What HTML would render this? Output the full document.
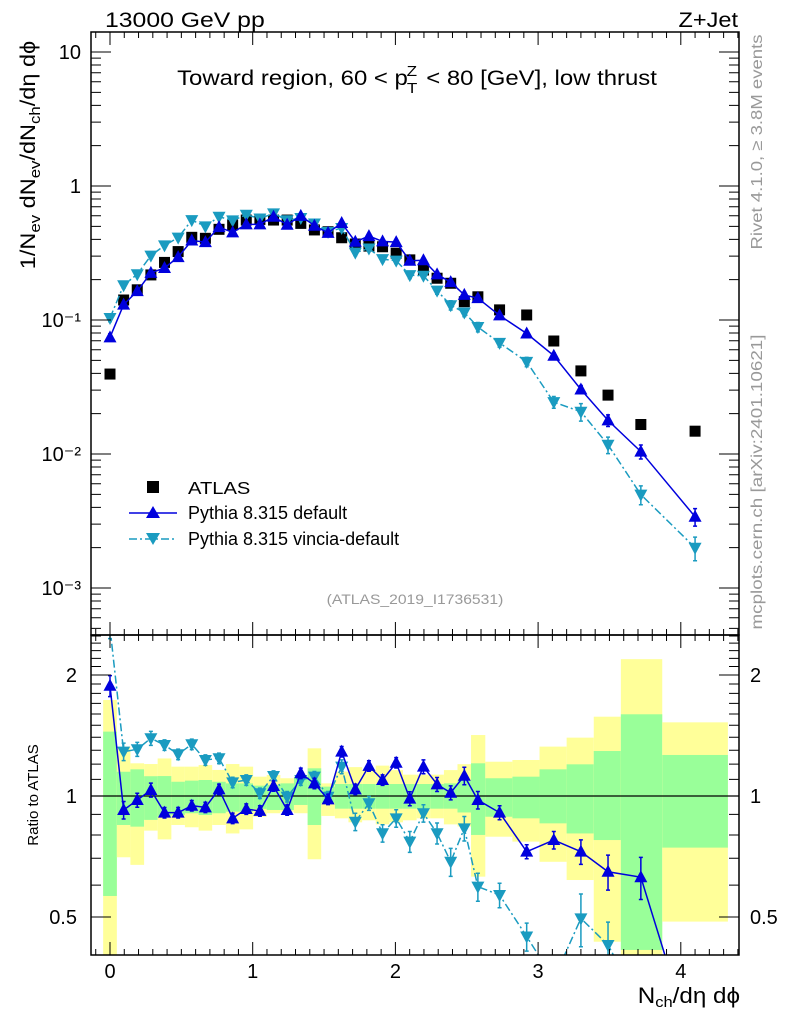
<!DOCTYPE html>
<html><head><meta charset="utf-8"><style>
html,body{margin:0;padding:0;background:#fff;overflow:hidden;width:786px;height:1024px}
svg{display:block;font-family:"Liberation Sans",sans-serif}
</style></head><body>
<svg id="chart" width="786" height="1024" viewBox="0 0 786 1024" xmlns="http://www.w3.org/2000/svg">
<defs>
<clipPath id="clipTop"><rect x="91" y="32" width="648" height="603"/></clipPath>
<clipPath id="clipRat"><rect x="91" y="635" width="648" height="320"/></clipPath>
</defs>
<g transform="translate(105,27) scale(1.18,1)"><text x="0" y="0" font-size="21">13000 GeV pp</text></g>
<g transform="translate(738,27) scale(1.12,1)"><text x="0" y="0" font-size="21" text-anchor="end">Z+Jet</text></g>
<g transform="translate(417,85) scale(1.14,1)"><text x="0" y="0" font-size="21" text-anchor="middle">Toward region, 60 &lt; p<tspan font-size="15" dy="-9" dx="-1">Z</tspan><tspan font-size="15" dy="17" dx="-9">T</tspan><tspan dy="-8" dx="2"> &lt; 80 [GeV], low thrust</tspan></text></g>
<g transform="translate(35,155) rotate(-90) scale(1.12,1)"><text x="0" y="0" font-size="21" text-anchor="middle">1/N<tspan font-size="15" dy="5">ev</tspan><tspan dy="-5"> dN</tspan><tspan font-size="15" dy="5">ev</tspan><tspan dy="-5">/dN</tspan><tspan font-size="15" dy="5">ch</tspan><tspan dy="-5">/dη dϕ</tspan></text></g>
<text transform="translate(38,795) rotate(-90)" font-size="15" text-anchor="middle">Ratio to ATLAS</text>
<text transform="translate(762,142) rotate(-90)" font-size="16" fill="#999" text-anchor="middle" textLength="215" lengthAdjust="spacingAndGlyphs">Rivet 4.1.0, ≥ 3.8M events</text>
<text transform="translate(762,482) rotate(-90)" font-size="16" fill="#999" text-anchor="middle" textLength="295" lengthAdjust="spacingAndGlyphs">mcplots.cern.ch [arXiv:2401.10621]</text>
<g transform="translate(740,1003) scale(1.1,1)"><text x="0" y="0" font-size="22" text-anchor="end">N<tspan font-size="15" dy="4">ch</tspan><tspan dy="-4">/dη dϕ</tspan></text></g>
<g transform="translate(415,604) scale(1.12,1)"><text x="0" y="0" font-size="14" fill="#999" text-anchor="middle">(ATLAS_2019_I1736531)</text></g>
<g id="bands" clip-path="url(#clipRat)"></g>
<g id="marks"></g>
<g id="axes"></g>
<g>
<rect x="147" y="481" width="12" height="12" fill="#000"/>
<g transform="translate(188,494) scale(1.12,1)"><text x="0" y="0" font-size="18">ATLAS</text></g>
<line x1="129" y1="513" x2="177" y2="513" stroke="#0000dd" stroke-width="1.5"/>
<path d="M153,506 L160,518 L146,518 Z" fill="#0000dd"/>
<g transform="translate(188,519) scale(1.0,1)"><text x="0" y="0" font-size="18">Pythia 8.315 default</text></g>
<line x1="129" y1="539" x2="177" y2="539" stroke="#1a9bc0" stroke-width="1.5" stroke-dasharray="8,3,2,3"/>
<path d="M146,533 L160,533 L153,545 Z" fill="#1a9bc0"/>
<g transform="translate(188,545) scale(1.0,1)"><text x="0" y="0" font-size="18">Pythia 8.315 vincia-default</text></g>
</g>
</svg>
<script>
const xCenters = [0,0.0955,0.191,0.2865,0.382,0.4775,0.573,0.6685,0.764,0.8595,0.955,1.0505,1.146,1.2415,1.337,1.4325,1.528,1.6235,1.719,1.8145,1.91,2.0055,2.101,2.1965,2.292,2.3875,2.483,2.578,2.73,2.92,3.11,3.30,3.49,3.72,4.1];
const binLo = [-0.048,0.048,0.143,0.239,0.334,0.43,0.525,0.621,0.716,0.812,0.907,1.003,1.098,1.194,1.289,1.385,1.48,1.576,1.671,1.767,1.862,1.958,2.053,2.149,2.244,2.34,2.435,2.53,2.63,2.82,3.01,3.20,3.39,3.58,3.87];
const binHi = [0.048,0.143,0.239,0.334,0.43,0.525,0.621,0.716,0.812,0.907,1.003,1.098,1.194,1.289,1.385,1.48,1.576,1.671,1.767,1.862,1.958,2.053,2.149,2.244,2.34,2.435,2.53,2.63,2.82,3.01,3.20,3.39,3.58,3.87,4.33];
const atlas = [0.0395,0.141,0.168,0.217,0.269,0.324,0.414,0.407,0.475,0.512,0.557,0.563,0.557,0.557,0.526,0.470,0.456,0.411,0.369,0.356,0.352,0.315,0.281,0.236,0.205,0.188,0.137,0.149,0.119,0.109,0.0697,0.0417,0.0275,0.0166,0.0148];
const pythiaRatio = [1.88,0.923,0.977,1.035,0.909,0.909,0.946,0.937,1.039,0.88,0.928,0.918,1.059,0.923,1.139,1.075,0.981,1.289,1.039,1.188,1.096,1.21,0.985,1.183,1.069,1.019,1.123,0.977,0.909,0.727,0.777,0.727,0.648,0.628,0.23];
const pythiaErr = [0.06,0.05,0.04,0.04,0.03,0.03,0.03,0.03,0.03,0.03,0.03,0.03,0.03,0.03,0.03,0.03,0.03,0.03,0.03,0.03,0.03,0.03,0.04,0.04,0.04,0.04,0.05,0.05,0.04,0.04,0.05,0.07,0.1,0.12,0.15];
const vinciaRatio = [2.62,1.289,1.307,1.392,1.339,1.27,1.345,1.229,1.241,1.081,1.096,1.016,1.121,0.996,1.096,1.117,0.996,1.183,0.863,0.959,0.808,0.88,0.77,0.906,0.808,0.686,0.831,0.595,0.567,0.447,0.35,0.496,0.426,0.30,0.135];
const vinciaErr = [0.06,0.05,0.04,0.04,0.03,0.03,0.03,0.03,0.03,0.03,0.03,0.03,0.03,0.03,0.03,0.03,0.03,0.04,0.05,0.04,0.05,0.05,0.06,0.05,0.06,0.08,0.07,0.08,0.07,0.08,0.1,0.15,0.14,0.16,0.2];
const statHi = [1.446,1.149,1.165,1.12,1.121,1.085,1.092,1.096,1.085,1.075,1.075,1.061,1.065,1.075,1.117,1.172,1.055,1.071,1.071,1.071,1.071,1.071,1.071,1.071,1.071,1.075,1.092,1.206,1.107,1.117,1.165,1.199,1.294,1.597,1.265];
const statLo = [0.564,0.847,0.839,0.872,0.888,0.897,0.906,0.897,0.906,0.914,0.914,0.929,0.923,0.923,0.95,0.847,0.959,0.93,0.93,0.93,0.93,0.93,0.93,0.93,0.93,0.93,0.91,0.8,0.888,0.88,0.855,0.807,0.777,0.414,0.744];
const totHi = [1.733,1.326,1.206,1.201,1.24,1.183,1.183,1.194,1.161,1.201,1.183,1.117,1.128,1.107,1.117,1.314,1.075,1.15,1.18,1.16,1.19,1.16,1.13,1.13,1.13,1.16,1.2,1.418,1.217,1.229,1.327,1.397,1.575,2.19,1.525];
const totLo = [0.3,0.704,0.674,0.82,0.78,0.847,0.836,0.82,0.847,0.807,0.826,0.888,0.906,0.914,0.906,0.696,0.892,0.88,0.86,0.87,0.85,0.86,0.87,0.88,0.88,0.85,0.84,0.63,0.792,0.77,0.686,0.618,0.434,0.3,0.487];
const yMainTicks = ["10","1","10⁻¹","10⁻²","10⁻³"];
const yMainTickVals = [10,1,0.1,0.01,0.001];
const xTickVals = [0,1,2,3,4];
const yRatTickVals = [2,1,0.5];

const NS="http://www.w3.org/2000/svg";
const X0=91,X1=739,TOP=32,MID=635,BOT=955;
function sx(v){return 110+142.7*v;}
function syMain(v){return 52+134*(1-Math.log10(v));}
function syRat(r){return 796-121*Math.log2(r);}
function mk(tag,attrs,parent){const e=document.createElementNS(NS,tag);for(const k in attrs)e.setAttribute(k,attrs[k]);parent.appendChild(e);return e;}
const bands=document.getElementById('bands'),marks=document.getElementById('marks'),axes=document.getElementById('axes');

for(let i=0;i<xCenters.length;i++){
  const x0=sx(binLo[i]),x1=sx(binHi[i]);
  const y=mk('rect',{x:x0,y:syRat(totHi[i]),width:x1-x0,height:syRat(totLo[i])-syRat(totHi[i]),fill:'#ffff99'},bands);
  
  
  const g=mk('rect',{x:x0,y:syRat(statHi[i]),width:x1-x0,height:syRat(statLo[i])-syRat(statHi[i]),fill:'#99ff99'},bands);
  
  
}
const one=mk('line',{x1:X0,x2:X1,y1:syRat(1),y2:syRat(1),stroke:'#000','stroke-width':1.2},bands);



function series(ratios,errs,color,dash,up,nameBase){
  const gTop=mk('g',{'clip-path':'url(#clipTop)'},marks);
  
  
  const gRat=mk('g',{'clip-path':'url(#clipRat)'},marks);
  
  
  let pm='',pr='';
  ratios.forEach((r,i)=>{const v=r*atlas[i];pm+=(i?'L':'M')+sx(xCenters[i])+','+syMain(v);pr+=(i?'L':'M')+sx(xCenters[i])+','+syRat(r);});
  const attrs={d:pm,fill:'none',stroke:color,'stroke-width':1.5};
  if(dash)attrs['stroke-dasharray']=dash;
  const l1=mk('path',attrs,gTop);
  
  
  attrs.d=pr;
  const l2=mk('path',attrs,gRat);
  
  
  ratios.forEach((r,i)=>{
    const x=sx(xCenters[i]);
    [[gTop,syMain(r*atlas[i]),syMain(r*atlas[i]*(1+errs[i])),syMain(r*atlas[i]*(1-errs[i]))],[gRat,syRat(r),syRat(r*(1+errs[i])),syRat(r*(1-errs[i]))]].forEach(([g,y,ya,yb])=>{
      const e=mk('path',{d:`M${x},${ya}L${x},${yb}M${x-2},${ya}L${x+2},${ya}M${x-2},${yb}L${x+2},${yb}`,stroke:color,'stroke-width':1.5,fill:'none'},g);
      
      
      const d=up?`M${x},${y-7}L${x+6.5},${y+5}L${x-6.5},${y+5}Z`:`M${x-6.5},${y-5}L${x+6.5},${y-5}L${x},${y+7}Z`;
      const m=mk('path',{d:d,fill:color},g);
      
      
    });
  });
}
const gA=mk('g',{'clip-path':'url(#clipTop)'},marks);


atlas.forEach((v,i)=>{
  const r=mk('rect',{x:sx(xCenters[i])-5.5,y:syMain(v)-5.5,width:11,height:11,fill:'#000'},gA);
  
  
});
series(vinciaRatio,vinciaErr,'#1a9bc0','8,3,2,3',false,'vincia');
series(pythiaRatio,pythiaErr,'#0000dd',null,true,'pythia');

[[TOP,MID],[MID,BOT]].forEach(([a,b],k)=>{
  const f=mk('rect',{x:X0,y:a,width:X1-X0,height:b-a,fill:'none',stroke:'#000','stroke-width':1.5},axes);
  
  
  let d='';
  for(let t=-0.1;t<=4.45;t+=0.1){const tv=Math.round(t*10)/10;const x=sx(tv);if(x<X0||x>X1)continue;const len=(Math.abs(tv-Math.round(tv))<1e-6)?13:6;d+=`M${x},${b}L${x},${b-len}M${x},${a}L${x},${a+len}`;}
  const tk=mk('path',{d:d,stroke:'#000','stroke-width':1,fill:'none'},axes);
  
  
});
let dy='';
for(let e=-4;e<=1;e++){for(let m=1;m<=9;m++){const v=m*Math.pow(10,e);const y=syMain(v);if(y<TOP||y>MID)continue;const len=m==1?20:10;dy+=`M${X0},${y}L${X0+len},${y}M${X1},${y}L${X1-len},${y}`;}}
const yt=mk('path',{d:dy,stroke:'#000','stroke-width':1,fill:'none'},axes);


yMainTickVals.forEach((v,i)=>{
  const t=mk('text',{x:81,y:syMain(v)+7,'font-size':20,'text-anchor':'end'},axes);
  t.textContent=yMainTicks[i];
  
  
});
let dr='';
for(let r=0.4;r<=2.5;r=Math.round((r+0.1)*10)/10){const y=syRat(r);if(y<MID||y>BOT)continue;const len=(r==0.5||r==1||r==2)?20:10;dr+=`M${X0},${y}L${X0+len},${y}M${X1},${y}L${X1-len},${y}`;}
const rt=mk('path',{d:dr,stroke:'#000','stroke-width':1,fill:'none'},axes);


yRatTickVals.forEach(v=>{
  const t=mk('text',{x:77,y:syRat(v)+7,'font-size':20,'text-anchor':'end'},axes);
  t.textContent=String(v);
  
  
  const t2=mk('text',{x:750,y:syRat(v)+7,'font-size':20},axes);
  t2.textContent=String(v);
  
  
});
xTickVals.forEach(v=>{
  const t=mk('text',{x:sx(v),y:978,'font-size':20,'text-anchor':'middle'},axes);
  t.textContent=String(v);
  
  
});
</script>
</body></html>
